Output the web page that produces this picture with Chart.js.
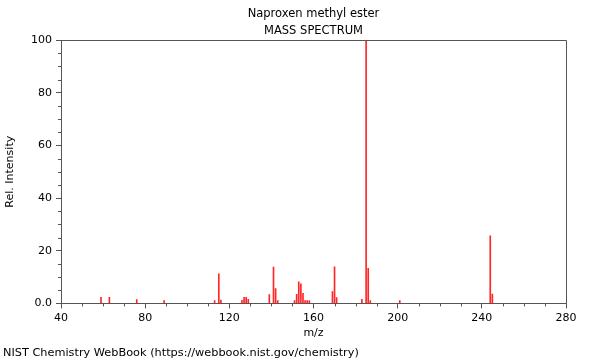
<!DOCTYPE html>
<html>
<head>
<meta charset="utf-8">
<script src="https://cdn.jsdelivr.net/npm/chart.js@4.4.1/dist/chart.umd.min.js"></script>
<style>
  body { margin: 0; background: #fff; }
  canvas { display: block; }
</style>
</head>
<body>
<canvas id="msChart" width="600" height="360"></canvas>
<script>
// Peak list
const mzValues = [59, 63, 76, 89, 113, 115, 116, 126, 127, 128, 129, 139, 141, 142, 143,
  151, 152, 153, 154, 155, 156, 157, 158, 169, 170, 171, 183, 185, 186, 187, 201, 244, 245];
const intensities = [2.3, 2.3, 1.5, 1.1, 1.1, 11.2, 1.3, 1.2, 2.3, 2.3, 1.6, 3.4, 13.8, 5.6, 1.1,
  1.1, 3.5, 8.2, 7.4, 3.8, 1.1, 1.1, 1.1, 4.5, 13.9, 2.2, 1.6, 100, 13.3, 1.1, 1.1, 25.7, 3.6];

const titleLines = ['Naproxen methyl ester', 'MASS SPECTRUM'];
const footerText = 'NIST Chemistry WebBook (https://webbook.nist.gov/chemistry)';

const AXIS_COLOR = '#555';

Chart.defaults.font.family = "'DejaVu Sans', sans-serif";
Chart.defaults.font.size = 11;
Chart.defaults.color = '#000';

// frame on top/right plus minor ticks
const framePlugin = {
  id: 'frame',
  afterDraw(chart) {
    const ctx = chart.ctx;
    const area = chart.chartArea;
    const xs = chart.scales.x, ys = chart.scales.y;
    ctx.save();
    ctx.strokeStyle = AXIS_COLOR;
    ctx.lineWidth = 1;
    ctx.beginPath();
    ctx.moveTo(Math.round(area.left) + 0.5, Math.round(area.top) + 0.5);
    ctx.lineTo(Math.round(area.right) + 0.5, Math.round(area.top) + 0.5);
    ctx.lineTo(Math.round(area.right) + 0.5, Math.round(area.bottom) + 0.5);
    for (let v = 50; v < 280; v += 10) {
      if (v % 40 === 0) continue;
      const px = Math.round(xs.getPixelForValue(v)) + 0.5;
      ctx.moveTo(px, area.bottom);
      ctx.lineTo(px, area.bottom + 3);
    }
    for (let v = 5; v < 100; v += 5) {
      if (v % 20 === 0) continue;
      const py = Math.round(ys.getPixelForValue(v)) + 0.5;
      ctx.moveTo(area.left - 3, py);
      ctx.lineTo(area.left, py);
    }
    ctx.stroke();
    ctx.restore();
  }
};

new Chart(document.getElementById('msChart'), {
  type: 'bar',
  data: {
    datasets: [{
      data: mzValues.map((m, i) => ({ x: m, y: intensities[i] })),
      backgroundColor: 'rgba(255,0,0,0.85)',
      borderWidth: 0,
      barThickness: 1
    }]
  },
  options: {
    responsive: false,
    animation: false,
    layout: { padding: { left: 3, right: 34, top: 0, bottom: 0 } },
    plugins: {
      legend: { display: false },
      tooltip: { enabled: false },
      title: {
        display: true,
        text: titleLines,
        fullSize: false,
        font: { size: 11.5, weight: 'normal', lineHeight: 17 / 11.5 },
        color: '#000',
        padding: { top: 6, bottom: 0 }
      },
      subtitle: {
        display: true,
        text: footerText,
        position: 'bottom',
        align: 'start',
        font: { size: 11.3, weight: 'normal' },
        color: '#000',
        padding: { top: 1, bottom: 0 }
      }
    },
    scales: {
      x: {
        type: 'linear',
        min: 40,
        max: 280,
        offset: false,
        afterFit(scale) { scale.height = 42; },
        ticks: { stepSize: 40, padding: 3, color: '#000', maxRotation: 0 },
        grid: { offset: false, drawOnChartArea: false, drawTicks: true, tickLength: 5, color: AXIS_COLOR },
        border: { display: true, color: AXIS_COLOR },
        title: { display: true, text: 'm/z', color: '#000', padding: { top: 0, bottom: 6 } }
      },
      y: {
        min: 0,
        max: 100,
        afterFit(scale) { scale.width = 58; },
        ticks: {
          stepSize: 20,
          padding: 4,
          color: '#000',
          callback: v => (v === 0 ? '0.0' : v)
        },
        grid: { drawOnChartArea: false, drawTicks: true, tickLength: 5, color: AXIS_COLOR },
        border: { display: true, color: AXIS_COLOR },
        title: { display: true, text: 'Rel. Intensity', color: '#000', padding: { top: 1, bottom: 0 } }
      }
    }
  },
  plugins: [framePlugin]
});
</script>
</body>
</html>
